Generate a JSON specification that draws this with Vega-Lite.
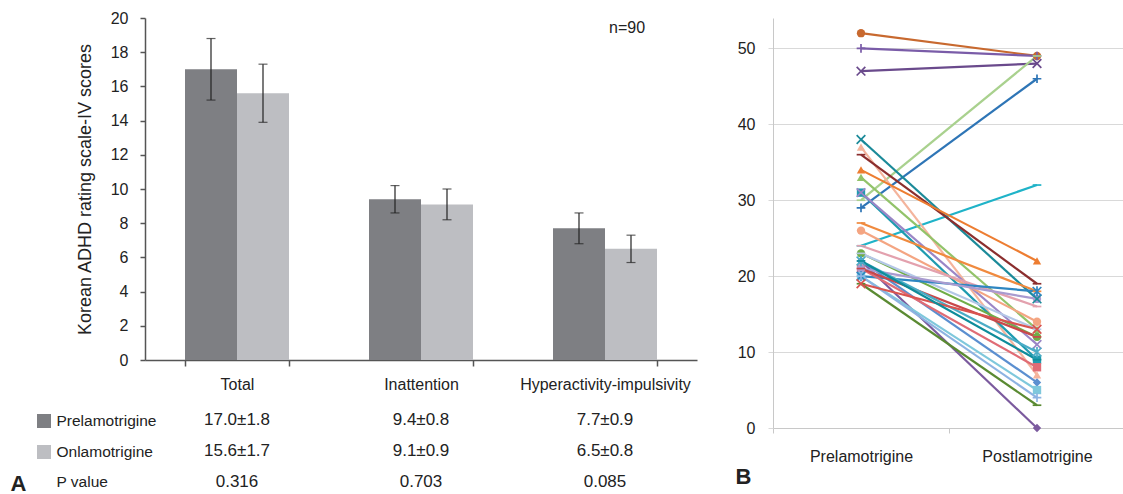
{
  "$schema": "https://vega.github.io/schema/vega-lite/v6.json",
  "background": "white",
  "padding": {"left": 10, "top": 10, "right": 0, "bottom": 0},
  "config": {
    "font": "Liberation Sans",
    "view": {"stroke": null},
    "axis": {"labelColor": "#222", "titleColor": "#222", "labelFont": "Liberation Sans", "titleFont": "Liberation Sans", "labelOverlap": false},
    "text": {"font": "Liberation Sans"}
  },
  "datasets": {
    "bars": [
      {"group": "Total", "series": "Prelamotrigine", "mean": 17.0, "lo": 15.2, "hi": 18.8},
      {"group": "Total", "series": "Onlamotrigine", "mean": 15.6, "lo": 13.9, "hi": 17.3},
      {"group": "Inattention", "series": "Prelamotrigine", "mean": 9.4, "lo": 8.6, "hi": 10.2},
      {"group": "Inattention", "series": "Onlamotrigine", "mean": 9.1, "lo": 8.2, "hi": 10.0},
      {"group": "Hyperactivity-impulsivity", "series": "Prelamotrigine", "mean": 7.7, "lo": 6.8, "hi": 8.6},
      {"group": "Hyperactivity-impulsivity", "series": "Onlamotrigine", "mean": 6.5, "lo": 5.7, "hi": 7.3}
    ],
    "table": [
      {"group": "Total", "row": "Prelamotrigine", "text": "17.0±1.8"},
      {"group": "Inattention", "row": "Prelamotrigine", "text": "9.4±0.8"},
      {"group": "Hyperactivity-impulsivity", "row": "Prelamotrigine", "text": "7.7±0.9"},
      {"group": "Total", "row": "Onlamotrigine", "text": "15.6±1.7"},
      {"group": "Inattention", "row": "Onlamotrigine", "text": "9.1±0.9"},
      {"group": "Hyperactivity-impulsivity", "row": "Onlamotrigine", "text": "6.5±0.8"},
      {"group": "Total", "row": "P value", "text": "0.316"},
      {"group": "Inattention", "row": "P value", "text": "0.703"},
      {"group": "Hyperactivity-impulsivity", "row": "P value", "text": "0.085"}
    ],
    "lines": [
      {"id": "s01", "phase": "Prelamotrigine", "score": 52}, {"id": "s01", "phase": "Postlamotrigine", "score": 49},
      {"id": "s02", "phase": "Prelamotrigine", "score": 50}, {"id": "s02", "phase": "Postlamotrigine", "score": 49},
      {"id": "s03", "phase": "Prelamotrigine", "score": 47}, {"id": "s03", "phase": "Postlamotrigine", "score": 48},
      {"id": "s04", "phase": "Prelamotrigine", "score": 30}, {"id": "s04", "phase": "Postlamotrigine", "score": 49},
      {"id": "s05", "phase": "Prelamotrigine", "score": 29}, {"id": "s05", "phase": "Postlamotrigine", "score": 46},
      {"id": "s06", "phase": "Prelamotrigine", "score": 24}, {"id": "s06", "phase": "Postlamotrigine", "score": 32},
      {"id": "s07", "phase": "Prelamotrigine", "score": 38}, {"id": "s07", "phase": "Postlamotrigine", "score": 17},
      {"id": "s08", "phase": "Prelamotrigine", "score": 37}, {"id": "s08", "phase": "Postlamotrigine", "score": 7},
      {"id": "s09", "phase": "Prelamotrigine", "score": 36}, {"id": "s09", "phase": "Postlamotrigine", "score": 19},
      {"id": "s10", "phase": "Prelamotrigine", "score": 34}, {"id": "s10", "phase": "Postlamotrigine", "score": 22},
      {"id": "s11", "phase": "Prelamotrigine", "score": 33}, {"id": "s11", "phase": "Postlamotrigine", "score": 13},
      {"id": "s12", "phase": "Prelamotrigine", "score": 31}, {"id": "s12", "phase": "Postlamotrigine", "score": 9},
      {"id": "s13", "phase": "Prelamotrigine", "score": 31}, {"id": "s13", "phase": "Postlamotrigine", "score": 11},
      {"id": "s14", "phase": "Prelamotrigine", "score": 27}, {"id": "s14", "phase": "Postlamotrigine", "score": 18},
      {"id": "s15", "phase": "Prelamotrigine", "score": 26}, {"id": "s15", "phase": "Postlamotrigine", "score": 14},
      {"id": "s16", "phase": "Prelamotrigine", "score": 24}, {"id": "s16", "phase": "Postlamotrigine", "score": 16},
      {"id": "s17", "phase": "Prelamotrigine", "score": 23}, {"id": "s17", "phase": "Postlamotrigine", "score": 12},
      {"id": "s18", "phase": "Prelamotrigine", "score": 23}, {"id": "s18", "phase": "Postlamotrigine", "score": 13},
      {"id": "s19", "phase": "Prelamotrigine", "score": 22}, {"id": "s19", "phase": "Postlamotrigine", "score": 0},
      {"id": "s20", "phase": "Prelamotrigine", "score": 22}, {"id": "s20", "phase": "Postlamotrigine", "score": 6},
      {"id": "s21", "phase": "Prelamotrigine", "score": 20}, {"id": "s21", "phase": "Postlamotrigine", "score": 18},
      {"id": "s22", "phase": "Prelamotrigine", "score": 21}, {"id": "s22", "phase": "Postlamotrigine", "score": 8},
      {"id": "s23", "phase": "Prelamotrigine", "score": 21}, {"id": "s23", "phase": "Postlamotrigine", "score": 17},
      {"id": "s24", "phase": "Prelamotrigine", "score": 21}, {"id": "s24", "phase": "Postlamotrigine", "score": 12},
      {"id": "s25", "phase": "Prelamotrigine", "score": 20}, {"id": "s25", "phase": "Postlamotrigine", "score": 5},
      {"id": "s26", "phase": "Prelamotrigine", "score": 22}, {"id": "s26", "phase": "Postlamotrigine", "score": 10},
      {"id": "s27", "phase": "Prelamotrigine", "score": 20}, {"id": "s27", "phase": "Postlamotrigine", "score": 4},
      {"id": "s28", "phase": "Prelamotrigine", "score": 19}, {"id": "s28", "phase": "Postlamotrigine", "score": 3},
      {"id": "s29", "phase": "Prelamotrigine", "score": 19}, {"id": "s29", "phase": "Postlamotrigine", "score": 13},
      {"id": "s30", "phase": "Prelamotrigine", "score": 22}, {"id": "s30", "phase": "Postlamotrigine", "score": 9}
    ]
  },
  "resolve": {"scale": {"color": "independent", "shape": "independent"}},
  "spacing": 38,
  "hconcat": [
    {
      "bounds": "flush",
      "spacing": 45,
      "resolve": {"scale": {"color": "independent"}},
      "vconcat": [
        {
          "width": 552,
          "height": 342,
          "data": {"name": "bars"},
          "encoding": {
            "x": {
              "field": "group", "type": "nominal",
              "sort": ["Total", "Inattention", "Hyperactivity-impulsivity"],
              "scale": {"paddingInner": 0.4348, "paddingOuter": 0.2174},
              "axis": {"title": null, "labelAngle": 0, "tickBand": "extent", "tickSize": 6, "labelPadding": 10, "labelFontSize": 16, "domainColor": "#555", "tickColor": "#555", "domainWidth": 1.5, "tickWidth": 1.5}
            },
            "xOffset": {"field": "series", "type": "nominal", "sort": ["Prelamotrigine", "Onlamotrigine"]}
          },
          "layer": [
            {
              "mark": {"type": "bar"},
              "encoding": {
                "y": {
                  "field": "mean", "type": "quantitative",
                  "scale": {"domain": [0, 20]},
                  "axis": {"title": "Korean ADHD rating scale-IV scores", "values": [0, 2, 4, 6, 8, 10, 12, 14, 16, 18, 20], "labelOverlap": false, "grid": false, "tickSize": 5, "labelPadding": 12, "labelFontSize": 16, "titleFontSize": 18, "titleFontWeight": "normal", "titlePadding": 16, "domainColor": "#555", "tickColor": "#555", "domainWidth": 1.5, "tickWidth": 1.5}
                },
                "color": {
                  "field": "series", "type": "nominal",
                  "scale": {"domain": ["Prelamotrigine", "Onlamotrigine"], "range": ["#7e7f83", "#bdbec2"]},
                  "legend": {"orient": "none", "legendX": -108, "legendY": 396, "title": null, "symbolType": "square", "symbolSize": 196, "symbolStrokeWidth": 0, "symbolOpacity": 1, "labelExpr": "''", "rowPadding": 17, "labelFontSize": 14, "padding": 0}
                }
              }
            },
            {
              "mark": {"type": "rule", "color": "#222", "strokeWidth": 1.2},
              "encoding": {
                "y": {"field": "lo", "type": "quantitative", "axis": {"title": "Korean ADHD rating scale-IV scores", "values": [0, 2, 4, 6, 8, 10, 12, 14, 16, 18, 20], "labelOverlap": false, "grid": false, "tickSize": 5, "labelPadding": 12, "labelFontSize": 16, "titleFontSize": 18, "titleFontWeight": "normal", "titlePadding": 16, "domainColor": "#555", "tickColor": "#555", "domainWidth": 1.5, "tickWidth": 1.5}},
                "y2": {"field": "hi"}
              }
            },
            {
              "mark": {"type": "tick", "orient": "horizontal", "size": 9, "thickness": 1.2, "color": "#222"},
              "encoding": {
                "y": {"field": "lo", "type": "quantitative", "axis": {"title": "Korean ADHD rating scale-IV scores", "values": [0, 2, 4, 6, 8, 10, 12, 14, 16, 18, 20], "labelOverlap": false, "grid": false, "tickSize": 5, "labelPadding": 12, "labelFontSize": 16, "titleFontSize": 18, "titleFontWeight": "normal", "titlePadding": 16, "domainColor": "#555", "tickColor": "#555", "domainWidth": 1.5, "tickWidth": 1.5}}
              }
            },
            {
              "mark": {"type": "tick", "orient": "horizontal", "size": 9, "thickness": 1.2, "color": "#222"},
              "encoding": {
                "y": {"field": "hi", "type": "quantitative", "axis": {"title": "Korean ADHD rating scale-IV scores", "values": [0, 2, 4, 6, 8, 10, 12, 14, 16, 18, 20], "labelOverlap": false, "grid": false, "tickSize": 5, "labelPadding": 12, "labelFontSize": 16, "titleFontSize": 18, "titleFontWeight": "normal", "titlePadding": 16, "domainColor": "#555", "tickColor": "#555", "domainWidth": 1.5, "tickWidth": 1.5}}
              }
            },
            {
              "data": {"values": [{"t": "n=90"}]},
              "mark": {"type": "text", "fontSize": 16, "dx": 22, "color": "#222"},
              "encoding": {
                "x": {"datum": "Hyperactivity-impulsivity"},
                "xOffset": null,
                "y": {"datum": 19.4, "axis": {"title": "Korean ADHD rating scale-IV scores", "values": [0, 2, 4, 6, 8, 10, 12, 14, 16, 18, 20], "labelOverlap": false, "grid": false, "tickSize": 5, "labelPadding": 12, "labelFontSize": 16, "titleFontSize": 18, "titleFontWeight": "normal", "titlePadding": 16, "domainColor": "#555", "tickColor": "#555", "domainWidth": 1.5, "tickWidth": 1.5}},
                "text": {"field": "t"}
              }
            }
          ]
        },
        {
          "width": 552,
          "height": 92,
          "data": {"name": "table"},
          "mark": {"type": "text", "fontSize": 17, "color": "#222"},
          "encoding": {
            "x": {
              "field": "group", "type": "nominal",
              "sort": ["Total", "Inattention", "Hyperactivity-impulsivity"],
              "scale": {"paddingInner": 0.4348, "paddingOuter": 0.2174},
              "axis": null
            },
            "y": {
              "field": "row", "type": "nominal",
              "sort": ["Prelamotrigine", "Onlamotrigine", "P value"],
              "scale": {"type": "point", "padding": 0.5},
              "axis": {"title": "A", "titleAngle": 0, "titleFontSize": 22, "titleFontWeight": "bold", "titleX": -135, "titleY": 78, "titleAlign": "left", "titleBaseline": "middle", "domain": false, "ticks": false, "tickSize": 0, "labelAlign": "left", "labelPadding": 89, "labelFontSize": 15.5}
            },
            "text": {"field": "text"}
          }
        }
      ]
    },
    {
      "width": 352,
      "height": 410,
      "data": {"name": "lines"},
      "encoding": {
        "x": {
          "field": "phase", "type": "nominal",
          "sort": ["Prelamotrigine", "Postlamotrigine"],
          "scale": {"type": "band", "paddingInner": 0, "paddingOuter": 0},
          "axis": {"title": "B", "titleX": -38, "titleY": 48, "titleAlign": "left", "titleBaseline": "middle", "titleAngle": 0, "titleFontSize": 22, "titleFontWeight": "bold", "labelAngle": 0, "tickBand": "extent", "tickSize": 5, "labelPadding": 15, "labelFontSize": 16, "domainColor": "#c8c8c8", "tickColor": "#c8c8c8"}
        },
        "y": {
          "field": "score", "type": "quantitative",
          "scale": {"domain": [0, 54]},
          "axis": {"title": null, "values": [0, 10, 20, 30, 40, 50], "grid": true, "gridColor": "#d9d9d9", "domainColor": "#c8c8c8", "tickColor": "#d9d9d9", "tickSize": 5, "labelPadding": 13, "labelFontSize": 16}
        },
        "color": {
          "field": "id", "type": "nominal", "legend": null,
          "scale": {
            "domain": ["s01","s02","s03","s04","s05","s06","s07","s08","s09","s10","s11","s12","s13","s14","s15","s16","s17","s18","s19","s20","s21","s22","s23","s24","s25","s26","s27","s28","s29","s30"],
            "range": ["#c8692f","#7a5ca8","#6a4a8c","#a9d18e","#2e75b6","#1fb3c8","#1b8a99","#f4b49c","#8b2e2e","#ed7d31","#92c36a","#1f9bb0","#9b86c6","#f08a3e","#f4a582","#e3a1ae","#70ad47","#b4c7e7","#7b5a9e","#5b8fd0","#2e86c1","#e06c75","#a99bd0","#c9484a","#7fc8dc","#4bacc6","#8db3e2","#5a8a32","#d9534f","#0e8c9a"]
          }
        }
      },
      "layer": [
        {"mark": {"type": "line", "strokeWidth": 2.2}},
        {
          "transform": [{"filter": {"field": "id", "oneOf": ["s01","s08","s10","s11","s12","s15","s17","s19","s20","s22","s23","s25"]}}],
          "mark": {"type": "point", "filled": true, "size": 70, "opacity": 1},
          "encoding": {
            "shape": {
              "field": "id", "type": "nominal", "legend": null,
              "scale": {
                "domain": ["s01","s02","s03","s04","s05","s06","s07","s08","s09","s10","s11","s12","s13","s14","s15","s16","s17","s18","s19","s20","s21","s22","s23","s24","s25","s26","s27","s28","s29","s30"],
                "range": ["circle","M-1,0L1,0M0,-1L0,1","M-1,-1L1,1M-1,1L1,-1","M-1,0L1,0","M-1,0L1,0M0,-1L0,1","M-1,0L1,0","M-1,-1L1,1M-1,1L1,-1","triangle-up","M-1,0L1,0","triangle-up","triangle-up","square","M-1,-1L1,1M-1,1L1,-1","M-1,0L1,0","circle","M-1,0L1,0","circle","M-1,0L1,0","diamond","diamond","M-1,-1L1,1M-1,1L1,-1M0,-1.2L0,1.2","square","circle","M-1,0L1,0","square","M-1,-1L1,1M-1,1L1,-1M0,-1.2L0,1.2","M-1,0L1,0M0,-1L0,1","M-1,0L1,0","M-1,-1L1,1M-1,1L1,-1","M-1,0L1,0"]
              }
            }
          }
        },
        {
          "transform": [{"filter": {"field": "id", "oneOf": ["s02","s03","s04","s05","s06","s07","s09","s13","s14","s16","s18","s21","s24","s26","s27","s28","s29","s30"]}}],
          "mark": {"type": "point", "filled": false, "size": 75, "strokeWidth": 1.7, "opacity": 1},
          "encoding": {
            "shape": {
              "field": "id", "type": "nominal", "legend": null,
              "scale": {
                "domain": ["s01","s02","s03","s04","s05","s06","s07","s08","s09","s10","s11","s12","s13","s14","s15","s16","s17","s18","s19","s20","s21","s22","s23","s24","s25","s26","s27","s28","s29","s30"],
                "range": ["circle","M-1,0L1,0M0,-1L0,1","M-1,-1L1,1M-1,1L1,-1","M-1,0L1,0","M-1,0L1,0M0,-1L0,1","M-1,0L1,0","M-1,-1L1,1M-1,1L1,-1","triangle-up","M-1,0L1,0","triangle-up","triangle-up","square","M-1,-1L1,1M-1,1L1,-1","M-1,0L1,0","circle","M-1,0L1,0","circle","M-1,0L1,0","diamond","diamond","M-1,-1L1,1M-1,1L1,-1M0,-1.2L0,1.2","square","circle","M-1,0L1,0","square","M-1,-1L1,1M-1,1L1,-1M0,-1.2L0,1.2","M-1,0L1,0M0,-1L0,1","M-1,0L1,0","M-1,-1L1,1M-1,1L1,-1","M-1,0L1,0"]
              }
            }
          }
        }
      ]
    }
  ]
}
